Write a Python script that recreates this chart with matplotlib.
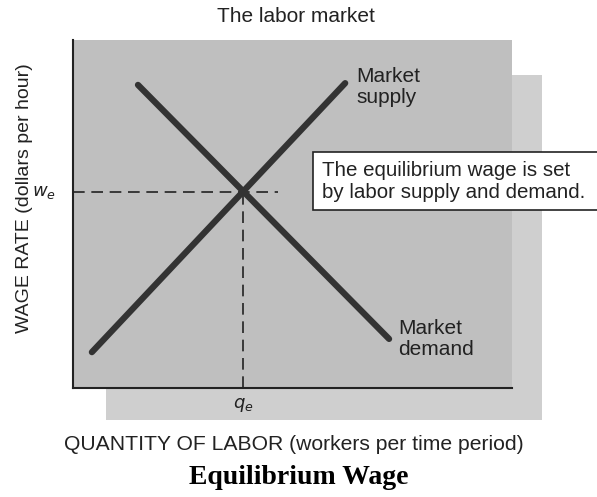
import matplotlib
matplotlib.use("Agg")
import matplotlib.pyplot as plt
from matplotlib.patches import Rectangle

# Data (axis units 0-10)
supply_x = [0.43, 6.20]
supply_y = [1.03, 8.76]
demand_x = [1.48, 7.20]
demand_y = [8.71, 1.41]
eq_q = 3.87
eq_w = 5.63
hline_end = 4.67

title = "The labor market"
xlabel = "QUANTITY OF LABOR (workers per time period)"
ylabel = "WAGE RATE (dollars per hour)"
caption = "Equilibrium Wage"
box_text = "The equilibrium wage is set\nby labor supply and demand."

W, H = 597, 497
fig = plt.figure(figsize=(W / 100, H / 100), dpi=100)
fig.patch.set_facecolor("white")

def fx(px):
    return px / W

def fy(py):
    return 1 - py / H

sans = "Liberation Sans"

# shadow rectangle in a background axes
bg = fig.add_axes([0, 0, 1, 1], zorder=0)
bg.set_xlim(0, 1)
bg.set_ylim(0, 1)
bg.axis("off")
bg.add_patch(Rectangle((fx(106), fy(420)), fx(542) - fx(106), fy(75) - fy(420),
                       facecolor="#cfcfcf", edgecolor="none"))

ax = fig.add_axes([fx(73), fy(388), fx(512) - fx(73), fy(40) - fy(388)], zorder=1)
ax.set_facecolor("#bfbfbf")
ax.set_xlim(0, 10)
ax.set_ylim(0, 10)
for s in ["top", "right"]:
    ax.spines[s].set_visible(False)
for s in ["left", "bottom"]:
    ax.spines[s].set_color("#222222")
    ax.spines[s].set_linewidth(1.5)
ax.set_xticks([])
ax.set_yticks([])

ax.plot(supply_x, supply_y, color="#333333", lw=4.5, solid_capstyle="round", zorder=3)
ax.plot(demand_x, demand_y, color="#333333", lw=4.5, solid_capstyle="round", zorder=3)
ax.plot([0, hline_end], [eq_w, eq_w], color="#222222", lw=1.2, ls=(0, (7, 4)), zorder=2)
ax.plot([eq_q, eq_q], [0, eq_w], color="#222222", lw=1.2, ls=(0, (7, 4)), zorder=2)

ax.text(-0.4, eq_w, r"$w_e$", ha="right", va="center", fontsize=13, color="#222222")
ax.text(eq_q, -0.5, r"$q_e$", ha="center", va="center", fontsize=13, color="#222222")

ax.text(6.45, 8.65, "Market\nsupply", ha="left", va="center", fontsize=15,
        family=sans, color="#222222", linespacing=1.15)
ax.text(7.4, 1.4, "Market\ndemand", ha="left", va="center", fontsize=15,
        family=sans, color="#222222", linespacing=1.15)

# annotation box (extends past the right edge)
ax.add_patch(Rectangle((fx(313), fy(210)), fx(600) - fx(313), fy(152) - fy(210),
                       transform=fig.transFigure, facecolor="white",
                       edgecolor="#222222", lw=1.2, zorder=5, clip_on=False))
ax.text(fx(322), fy(181), box_text, transform=fig.transFigure, ha="left", va="center",
        fontsize=14.8, family=sans, color="#222222", linespacing=1.2, zorder=6,
        clip_on=False)

fig.text(fx(296), fy(17), title, ha="center", va="center", fontsize=15,
         family=sans, color="#222222")
fig.text(fx(294), fy(445), xlabel, ha="center", va="center", fontsize=15.2,
         family=sans, color="#222222")
fig.text(fx(25), fy(198), ylabel, ha="center", va="center", fontsize=14,
         family=sans, color="#222222", rotation=90)
fig.text(fx(299), fy(478), caption, ha="center", va="center", fontsize=20,
         family="Liberation Serif", weight="bold", color="black")

fig.savefig("out.png", dpi=100)
